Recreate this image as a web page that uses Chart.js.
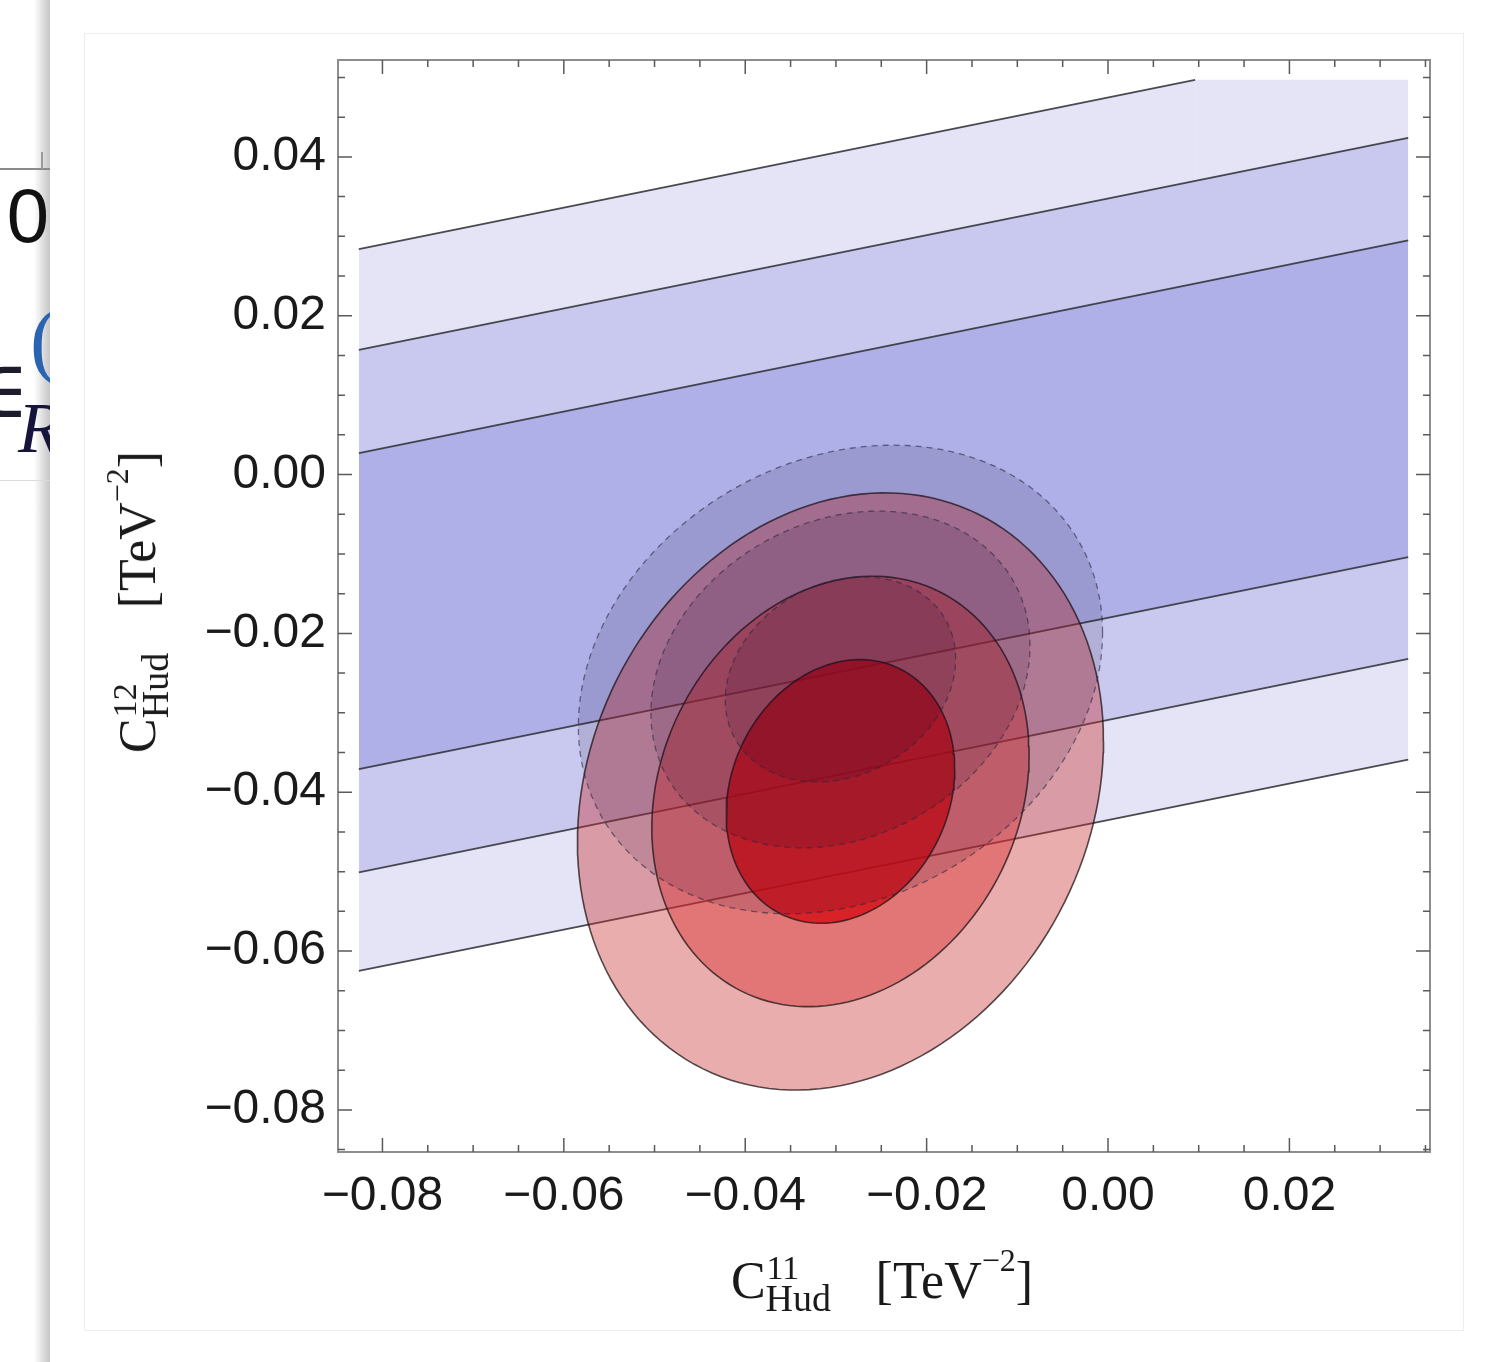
<!DOCTYPE html>
<html>
<head>
<meta charset="utf-8">
<script src="https://cdn.jsdelivr.net/npm/chart.js@4/dist/chart.umd.min.js"></script>
<style>
  html, body { margin: 0; padding: 0; background: #fff; }
  body { width: 1486px; height: 1362px; overflow: hidden; position: relative; }
  #plot { position: absolute; left: 0; top: 0; }
  #panel { position: absolute; left: 84px; top: 33px; width: 1378px; height: 1296px; border: 1px solid #ededed; }
  #shadow { position: absolute; left: 34px; top: 0; width: 16px; height: 1362px;
            background: linear-gradient(to right, rgba(255,255,255,1), #cdcdcd 85%, #c6c6c6); }
  #strip { position: absolute; left: 0; top: 0; width: 50px; height: 1362px; overflow: hidden; }
  #strip .rule { position: absolute; left: 0; width: 50px; }
  #strip span { position: absolute; white-space: nowrap; line-height: 1; }
  .atitle { position: absolute; font-family: "Liberation Serif", "Times New Roman", serif; font-size: 52px;
            line-height: 1; color: #1a1a1a; white-space: nowrap; }
  .stack { display: inline-block; position: relative; width: 70px; height: 0; }
  .stack .sup { position: absolute; left: 1px; bottom: 13px; font-size: 34px; line-height: 1; }
  .stack .sub { position: absolute; left: 0; top: -19px; font-size: 38px; line-height: 1; }
  .unit { margin-left: 40px; }
  .exp { position: relative; top: -27px; font-size: 32px; }
  #xtitle { left: 882px; top: 1255px; transform: translateX(-50%); }
  #ytitle { left: 138px; top: 602px; transform: translate(-50%, -50%) rotate(-90deg); }
</style>
</head>
<body>
<div id="shadow"></div>
<div id="strip">
  <div class="rule" style="top:168px;height:2px;background:#8a8a8a"></div>
  <div style="position:absolute;left:41px;top:152px;width:2px;height:17px;background:#9a9a9a"></div>
  <span style="right:1px;top:178px;font-family:'Liberation Sans',Arial,sans-serif;font-size:76px;color:#111">1.0</span>
  <span style="left:-30px;top:350px;font-family:'DejaVu Serif',serif;font-size:80px;color:#1c1c2c">∈</span>
  <span style="left:30px;top:298px;font-family:'Liberation Serif',serif;font-size:84px;color:#2a63b0">(</span>
  <span style="left:18px;top:392px;font-family:'Liberation Serif',serif;font-style:italic;font-size:72px;color:#14143c">R</span>
  <div class="rule" style="top:480px;height:1px;background:#dcdcdc"></div>
</div>
<div id="panel"></div>
<canvas id="plot" width="1486" height="1362"></canvas>
<div id="xtitle" class="atitle">C<span class="stack"><span class="sup">11</span><span class="sub">Hud</span></span><span class="unit">[TeV<span class="exp">−2</span>]</span></div>
<div id="ytitle" class="atitle">C<span class="stack"><span class="sup">12</span><span class="sub">Hud</span></span><span class="unit">[TeV<span class="exp">−2</span>]</span></div>
<script>
// frame range of the plot
const xRange = [-0.0849, 0.0355];
const yRange = [-0.0853, 0.0522];
const xTickValues = [-0.08, -0.06, -0.04, -0.02, 0.0, 0.02];
const yTickValues = [-0.08, -0.06, -0.04, -0.02, 0.0, 0.02, 0.04];
const minorStep = 0.005;

// blue bands: straight contour lines, read at the left and right edge of the region
const bandX = [-0.0826, 0.0331];
const bandEdgeLeft = [0.0284, 0.0157, 0.0027, -0.0371, -0.0501, -0.0625];
const bandEdgeRight = [0.0497, 0.0424, 0.0295, -0.0104, -0.0232, -0.0359];
const bandTopY = 0.0497;      // top of the plotted region
const bandTopHitX = 0.0096;   // where the upper line leaves through the top
const bandColors = ['#e4e4f6', '#c9c9ef', '#aeb0e7', '#c9c9ef', '#e4e4f6'];

// red (solid) contours: centre, half widths, half heights, correlation
const solidCenter = [-0.0295, -0.0399];
const solidHalfX = [0.0290, 0.0208, 0.0126];
const solidHalfY = [0.0376, 0.0271, 0.0166];
const solidRho = 0.17;
const solidFills = ['rgba(200,40,40,0.38)', 'rgba(215,40,40,0.42)', 'rgba(212,7,14,0.75)'];

// dashed contours
const dashCenter = [-0.0295, -0.0258];
const dashHalfX = [0.0289, 0.0209, 0.0127];
const dashHalfY = [0.0295, 0.0212, 0.0129];
const dashRho = 0.2;
const dashFill = 'rgba(25,10,55,0.13)';

const lineColor = 'rgba(45,45,50,0.85)';

function contour(center, hx, hy, rho) {
  const pts = [];
  const n = 160;
  const k = Math.sqrt(1 - rho * rho);
  for (let i = 0; i <= n; i++) {
    const t = (2 * Math.PI * i) / n;
    pts.push({
      x: center[0] + hx * Math.cos(t),
      y: center[1] + hy * (rho * Math.cos(t) + k * Math.sin(t)),
    });
  }
  return pts;
}

const datasets = [];

bandEdgeLeft.forEach((yl, i) => {
  let data;
  if (i === 0) {
    data = [
      { x: bandX[0], y: yl },
      { x: bandTopHitX, y: bandTopY },
      { x: bandX[1], y: bandTopY },
    ];
  } else {
    data = [
      { x: bandX[0], y: yl },
      { x: bandX[1], y: bandEdgeRight[i] },
    ];
  }
  datasets.push({
    data,
    order: 30 - i, // upper lines first so no band fill covers a lower line
    borderColor: lineColor,
    borderWidth: 1.8,
    pointRadius: 0,
    showLine: true,
    fill: i < bandColors.length ? '+1' : false,
    backgroundColor: bandColors[i] || 'transparent',
    segment: i === 0 ? { borderColor: ctx => (ctx.p0DataIndex === 1 ? 'rgba(0,0,0,0)' : lineColor) } : undefined,
  });
});

solidHalfX.forEach((hx, i) => {
  datasets.push({
    data: contour(solidCenter, hx, solidHalfY[i], solidRho),
    order: 10 - i,
    borderColor: 'rgba(30,20,20,0.75)',
    borderWidth: 1.6,
    pointRadius: 0,
    showLine: true,
    fill: 'shape',
    backgroundColor: solidFills[i],
  });
});

dashHalfX.forEach((hx, i) => {
  datasets.push({
    data: contour(dashCenter, hx, dashHalfY[i], dashRho),
    order: 5 - i,
    borderColor: 'rgba(40,40,60,0.6)',
    borderWidth: 1.3,
    borderDash: [6, 5],
    pointRadius: 0,
    showLine: true,
    fill: 'shape',
    backgroundColor: dashFill,
  });
});

const fmt = v => {
  const s = Math.abs(v) < 1e-9 ? '0.00' : v.toFixed(2);
  return s.replace('-', '\u2212');
};

// frame with inward ticks on all four sides
const framePlugin = {
  id: 'frame',
  afterDatasetsDraw(chart) {
    const { ctx, chartArea: a, scales } = chart;
    const xs = scales.x, ys = scales.y;
    ctx.save();
    ctx.strokeStyle = '#8d8d8d';
    ctx.lineWidth = 2;
    ctx.strokeRect(a.left, a.top, a.right - a.left, a.bottom - a.top);
    ctx.strokeStyle = '#5a5a5a';
    ctx.lineWidth = 1.5;
    const isMajor = v => Math.abs(v / 0.02 - Math.round(v / 0.02)) < 1e-6;
    for (let v = Math.ceil(xRange[0] / minorStep) * minorStep; v <= xRange[1] + 1e-9; v += minorStep) {
      const px = xs.getPixelForValue(v);
      const len = isMajor(v) ? 14 : 7;
      ctx.beginPath();
      ctx.moveTo(px, a.bottom); ctx.lineTo(px, a.bottom - len);
      ctx.moveTo(px, a.top); ctx.lineTo(px, a.top + len);
      ctx.stroke();
    }
    for (let v = Math.ceil(yRange[0] / minorStep) * minorStep; v <= yRange[1] + 1e-9; v += minorStep) {
      const py = ys.getPixelForValue(v);
      const len = isMajor(v) ? 14 : 7;
      ctx.beginPath();
      ctx.moveTo(a.left, py); ctx.lineTo(a.left + len, py);
      ctx.moveTo(a.right, py); ctx.lineTo(a.right - len, py);
      ctx.stroke();
    }
    ctx.restore();
  },
};

const tickFont = { family: "'Liberation Sans', Arial, sans-serif", size: 48 };

new Chart(document.getElementById('plot'), {
  type: 'scatter',
  data: { datasets },
  options: {
    responsive: false,
    animation: false,
    layout: { padding: { left: 0, top: 60, right: 56, bottom: 0 } },
    plugins: { legend: { display: false }, tooltip: { enabled: false } },
    scales: {
      x: {
        type: 'linear',
        min: xRange[0],
        max: xRange[1],
        grid: { display: false, drawTicks: false },
        border: { display: false },
        afterBuildTicks: s => { s.ticks = xTickValues.map(v => ({ value: v })); },
        afterFit: s => { s.height = 210; },
        ticks: { color: '#1a1a1a', font: tickFont, padding: 16, maxRotation: 0, autoSkip: false, callback: fmt },
      },
      y: {
        type: 'linear',
        min: yRange[0],
        max: yRange[1],
        grid: { display: false, drawTicks: false },
        border: { display: false },
        afterBuildTicks: s => { s.ticks = yTickValues.map(v => ({ value: v })); },
        afterFit: s => { s.width = 338; },
        ticks: { color: '#1a1a1a', font: tickFont, padding: 12, autoSkip: false, callback: fmt },
      },
    },
  },
  plugins: [framePlugin],
});
</script>
</body>
</html>
